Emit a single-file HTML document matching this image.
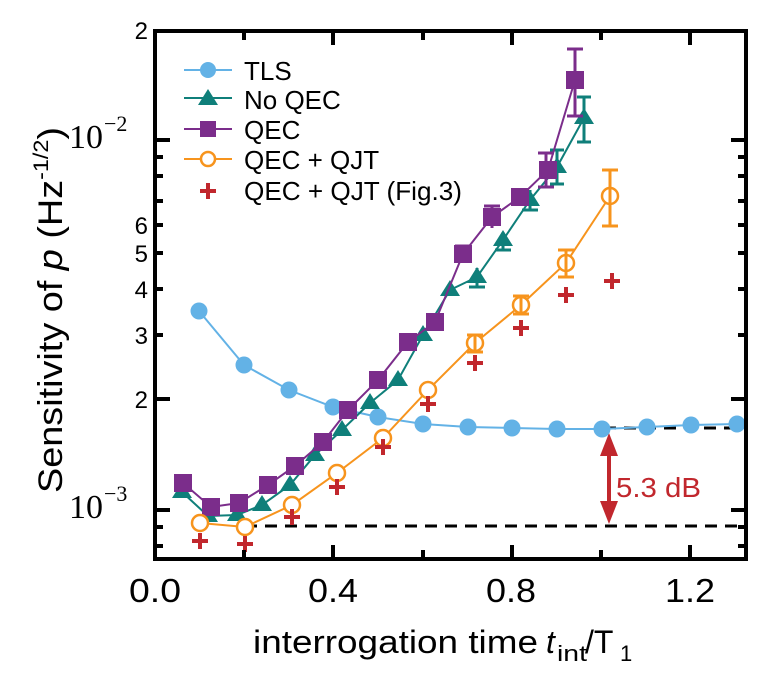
<!DOCTYPE html>
<html><head><style>body{margin:0;background:#fff}svg{display:block}</style></head><body>
<svg width="770" height="682" xmlns="http://www.w3.org/2000/svg" font-family="Liberation Sans, Arial, sans-serif">
<rect width="770" height="682" fill="#fff"/>
<!-- dashed lines -->
<line x1="245" y1="526" x2="748" y2="526" stroke="#000" stroke-width="3" stroke-dasharray="12,8"/>
<line x1="604" y1="428" x2="748" y2="428" stroke="#000" stroke-width="3" stroke-dasharray="12,8"/>
<!-- arrow -->
<line x1="609" y1="450" x2="609" y2="508" stroke="#c1272d" stroke-width="4"/>
<polygon points="609,433 600,456 618,456" fill="#c1272d"/>
<polygon points="609,524 600,501 618,501" fill="#c1272d"/>
<text x="616" y="497" font-size="28" fill="#c1272d" textLength="85" lengthAdjust="spacingAndGlyphs">5.3 dB</text>
<!-- TLS -->
<polyline fill="none" stroke="#63b2e6" stroke-width="2" points="199,311 244,365 289,390 333,407 378,417 423,424 468,427 512,428 557,429 602,429 647,427 691,425 737,424"/>
<g fill="#63b2e6"><circle cx="199" cy="311" r="8.5"/><circle cx="244" cy="365" r="8.5"/><circle cx="289" cy="390" r="8.5"/><circle cx="333" cy="407" r="8.5"/><circle cx="378" cy="417" r="8.5"/><circle cx="423" cy="424" r="8.5"/><circle cx="468" cy="427" r="8.5"/><circle cx="512" cy="428" r="8.5"/><circle cx="557" cy="429" r="8.5"/><circle cx="602" cy="429" r="8.5"/><circle cx="647" cy="427" r="8.5"/><circle cx="691" cy="425" r="8.5"/><circle cx="737" cy="424" r="8.5"/></g>
<!-- No QEC -->
<polyline fill="none" stroke="#0f7f7a" stroke-width="2" points="182,492 208,516 237,515 262,505 290,485 315,455 342,430 370,403 398,380 423,335 450,290 477,277 503,240 530,200 557,167 584,118"/>
<g fill="#0f7f7a">
<path d="M182,482 l10,16 h-20z M208,506 l10,16 h-20z M237,505 l10,16 h-20z M262,495 l10,16 h-20z M290,475 l10,16 h-20z M315,445 l10,16 h-20z M342,420 l10,16 h-20z M370,393 l10,16 h-20z M398,370 l10,16 h-20z M423,325 l10,16 h-20z M450,280 l10,16 h-20z M477,267 l10,16 h-20z M503,230 l10,16 h-20z M530,190 l10,16 h-20z M557,157 l10,16 h-20z M584,108 l10,16 h-20z"/>
</g>
<g stroke="#0f7f7a" stroke-width="3"><line x1="584" y1="97" x2="584" y2="142"/><line x1="577" y1="97" x2="591" y2="97"/><line x1="577" y1="142" x2="591" y2="142"/><line x1="557" y1="150" x2="557" y2="184"/><line x1="550" y1="150" x2="564" y2="150"/><line x1="550" y1="184" x2="564" y2="184"/><line x1="530" y1="190" x2="530" y2="210"/><line x1="522" y1="210" x2="538" y2="210"/><line x1="503" y1="232" x2="503" y2="250"/><line x1="495" y1="250" x2="511" y2="250"/><line x1="477" y1="268" x2="477" y2="287"/><line x1="469" y1="287" x2="485" y2="287"/></g>
<!-- QEC -->
<polyline fill="none" stroke="#7b2d8b" stroke-width="2" points="183,483 211,507 239,503 268,485 295,466 323,442 348,410 378,380 408,342 435,322 463,254 492,217 520,197 548,170 575,80"/>
<g fill="#7b2d8b"><rect x="174" y="474" width="18" height="18"/><rect x="202" y="498" width="18" height="18"/><rect x="230" y="494" width="18" height="18"/><rect x="259" y="476" width="18" height="18"/><rect x="286" y="457" width="18" height="18"/><rect x="314" y="433" width="18" height="18"/><rect x="339" y="401" width="18" height="18"/><rect x="369" y="371" width="18" height="18"/><rect x="399" y="333" width="18" height="18"/><rect x="426" y="313" width="18" height="18"/><rect x="454" y="245" width="18" height="18"/><rect x="483" y="208" width="18" height="18"/><rect x="511" y="188" width="18" height="18"/><rect x="539" y="161" width="18" height="18"/><rect x="566" y="71" width="18" height="18"/></g>
<g stroke="#7b2d8b" stroke-width="3"><line x1="575" y1="49" x2="575" y2="116"/><line x1="567" y1="49" x2="583" y2="49"/><line x1="567" y1="116" x2="583" y2="116"/><line x1="546" y1="153" x2="546" y2="187"/><line x1="538" y1="153" x2="554" y2="153"/><line x1="538" y1="187" x2="554" y2="187"/><line x1="492" y1="206" x2="492" y2="228"/><line x1="484" y1="206" x2="500" y2="206"/><line x1="463" y1="246" x2="463" y2="262"/><line x1="455" y1="246" x2="471" y2="246"/></g>
<!-- QEC+QJT -->
<polyline fill="none" stroke="#f7941d" stroke-width="2" points="200,523 245,527 292,505 337,473 383,438 428,390 475,343 521,305 566,263 610,196"/>
<g fill="#fff" stroke="#f7941d" stroke-width="2.5"><circle cx="200" cy="523" r="8"/><circle cx="245" cy="527" r="8"/><circle cx="292" cy="505" r="8"/><circle cx="337" cy="473" r="8"/><circle cx="383" cy="438" r="8"/><circle cx="428" cy="390" r="8"/><circle cx="475" cy="343" r="8"/><circle cx="521" cy="305" r="8"/><circle cx="566" cy="263" r="8"/><circle cx="610" cy="196" r="8"/></g>
<g stroke="#f7941d" stroke-width="3"><line x1="610" y1="170" x2="610" y2="226"/><line x1="602" y1="170" x2="618" y2="170"/><line x1="602" y1="226" x2="618" y2="226"/><line x1="566" y1="250" x2="566" y2="277"/><line x1="558" y1="250" x2="574" y2="250"/><line x1="558" y1="277" x2="574" y2="277"/><line x1="521" y1="296" x2="521" y2="314"/><line x1="513" y1="296" x2="529" y2="296"/><line x1="513" y1="314" x2="529" y2="314"/><line x1="475" y1="335" x2="475" y2="352"/><line x1="467" y1="335" x2="483" y2="335"/><line x1="467" y1="352" x2="483" y2="352"/></g>
<!-- pluses -->
<g stroke="#c1272d" stroke-width="4"><path d="M200,533v16M192,541h16 M245,536v16M237,544h16 M292,509v16M284,517h16 M337,479v16M329,487h16 M383,439v16M375,447h16 M428,396v16M420,404h16 M475,355v16M467,363h16 M521,320v16M513,328h16 M566,287v16M558,295h16 M612,273v16M604,281h16"/></g>
<!-- axes -->
<rect x="155" y="31" width="591" height="528" fill="none" stroke="#000" stroke-width="4"/>
<g stroke="#000" stroke-width="4">
<line x1="244" y1="31" x2="244" y2="40"/><line x1="333" y1="31" x2="333" y2="45"/><line x1="423" y1="31" x2="423" y2="40"/><line x1="512" y1="31" x2="512" y2="45"/><line x1="601" y1="31" x2="601" y2="40"/><line x1="690" y1="31" x2="690" y2="45"/>
<line x1="244" y1="559" x2="244" y2="550"/><line x1="333" y1="559" x2="333" y2="545"/><line x1="423" y1="559" x2="423" y2="550"/><line x1="512" y1="559" x2="512" y2="545"/><line x1="601" y1="559" x2="601" y2="550"/><line x1="690" y1="559" x2="690" y2="545"/>
<path d="M155,140h15 M155,157h8 M155,176h8 M155,201h8 M155,225h8 M155,253h8 M155,289h8 M155,335h8 M155,399h15 M155,510h15 M155,527h8 M155,546h8"/>
<path d="M746,140h-15 M746,157h-8 M746,176h-8 M746,201h-8 M746,225h-8 M746,253h-8 M746,289h-8 M746,335h-8 M746,399h-15 M746,510h-15 M746,527h-8 M746,546h-8"/>
</g>
<!-- tick labels -->
<g font-size="33" fill="#000">
<text x="129" y="602" textLength="52" lengthAdjust="spacingAndGlyphs">0.0</text><text x="308" y="602" textLength="50" lengthAdjust="spacingAndGlyphs">0.4</text><text x="486" y="602" textLength="50" lengthAdjust="spacingAndGlyphs">0.8</text><text x="665" y="602" textLength="50" lengthAdjust="spacingAndGlyphs">1.2</text>
</g>
<g font-size="24" text-anchor="end" fill="#000">
<text x="148" y="39">2</text><text x="148" y="234">6</text><text x="148" y="262">5</text><text x="148" y="298">4</text><text x="148" y="344">3</text><text x="148" y="408">2</text>
</g>
<g font-family="Liberation Serif, serif" fill="#000">
<text x="69" y="148" font-size="34">10</text><text x="104" y="131" font-size="22">−2</text>
<text x="69" y="518" font-size="34">10</text><text x="104" y="501" font-size="22">−3</text>
</g>
<text x="253" y="653" font-size="32" textLength="285" lengthAdjust="spacingAndGlyphs">interrogation time</text>
<text x="546" y="653" font-size="32" font-style="italic">t</text>
<text x="557" y="661" font-size="22" textLength="30" lengthAdjust="spacingAndGlyphs">int</text>
<text x="585" y="653" font-size="32">/T</text>
<text x="620" y="661" font-size="22">1</text>
<text transform="translate(62,310) rotate(-90)" text-anchor="middle" font-size="34" textLength="366" lengthAdjust="spacingAndGlyphs">Sensitivity of <tspan font-style="italic">p</tspan> (Hz<tspan font-size="21" dy="-14">-1/2</tspan><tspan dy="14">)</tspan></text>
<!-- legend -->
<g stroke-width="2">
<line x1="184" y1="70" x2="232" y2="70" stroke="#63b2e6"/><circle cx="208" cy="70" r="8" fill="#63b2e6"/>
<line x1="184" y1="98" x2="232" y2="98" stroke="#0f7f7a"/><path d="M208,89 l10,16 h-20z" fill="#0f7f7a"/>
<line x1="184" y1="129" x2="232" y2="129" stroke="#7b2d8b"/><rect x="200" y="121" width="16" height="16" fill="#7b2d8b"/>
<line x1="184" y1="159" x2="232" y2="159" stroke="#f7941d"/><circle cx="208" cy="159" r="7" fill="#fff" stroke="#f7941d" stroke-width="2.5"/>
<path d="M208,183v16M200,191h16" stroke="#c1272d" stroke-width="4"/>
</g>
<g font-size="26" fill="#000">
<text x="244" y="80">TLS</text><text x="244" y="109">No QEC</text><text x="244" y="139">QEC</text><text x="244" y="169">QEC + QJT</text><text x="244" y="200" textLength="218" lengthAdjust="spacingAndGlyphs">QEC + QJT (Fig.3)</text>
</g>
</svg>
</body></html>
